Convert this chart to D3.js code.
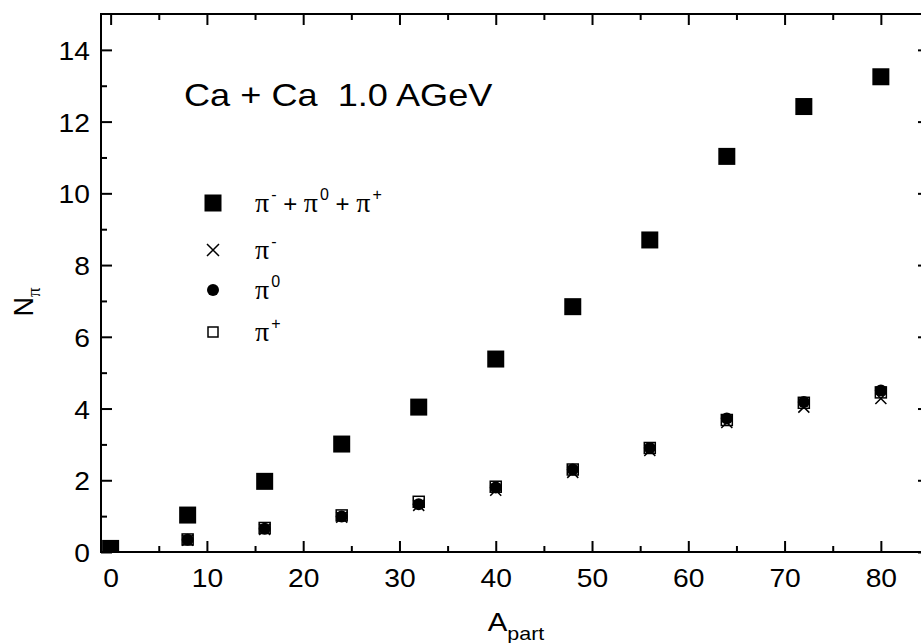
<!DOCTYPE html>
<html lang="en">
<head>
<meta charset="UTF-8">
<title>Pion multiplicity, Ca + Ca 1.0 AGeV</title>
<script src="https://d3js.org/d3.v7.min.js"></script>
<style>
  body { margin: 0; background: #fff; }
  svg { display: block; font-family: "Liberation Sans", Arial, sans-serif; }
  .axis text { font-size: 25px; fill: #000; }
  .axis line { stroke: #000; stroke-width: 2; }
</style>
</head>
<body>
<script>
// participants (x) and pion numbers
const aPart      = [0, 8, 16, 24, 32, 40, 48, 56, 64, 72, 80];
const nPiTotal   = [0.1, 1.03, 1.97, 3.01, 4.04, 5.38, 6.84, 8.7, 11.03, 12.42, 13.25];

const aPartSmall = [8, 16, 24, 32, 40, 48, 56, 64, 72, 80];
const nPiMinus   = [0.33, 0.63, 0.97, 1.3, 1.72, 2.22, 2.83, 3.61, 4.04, 4.28];
const nPiZero    = [0.34, 0.65, 0.99, 1.33, 1.8, 2.3, 2.9, 3.72, 4.18, 4.5];
const nPiPlus    = [0.35, 0.67, 1.02, 1.4, 1.82, 2.3, 2.9, 3.68, 4.16, 4.45];

const xMajor = [0, 10, 20, 30, 40, 50, 60, 70, 80];
const xMinor = [5, 15, 25, 35, 45, 55, 65, 75];
const yMajor = [0, 2, 4, 6, 8, 10, 12, 14];
const yMinor = [1, 3, 5, 7, 9, 11, 13];

const width = 921, height = 643;
const plotL = 101, plotR = 929, plotT = 14, plotB = 552;
const sx = 1.13; // the original lettering is a bit wider than Arial

const x = d3.scaleLinear().domain([-1, 85]).range([plotL, plotR]);
const y = d3.scaleLinear().domain([0, 15]).range([plotB, plotT]);

const svg = d3.select("body").append("svg")
    .attr("width", width)
    .attr("height", height);

svg.append("clipPath").attr("id", "plot")
  .append("rect")
    .attr("x", plotL).attr("y", plotT)
    .attr("width", plotR - plotL).attr("height", plotB - plotT);

// ticks, all pointing inward
function tickAxis(gen, tx, ty) {
  const g = svg.append("g").attr("class", "axis")
      .attr("transform", `translate(${tx},${ty})`)
      .call(gen);
  g.select(".domain").remove();
  return g;
}

tickAxis(d3.axisBottom(x).tickValues(xMajor).tickSize(-11).tickPadding(17).tickFormat(d3.format("d")), 0, plotB)
  .selectAll("text").attr("transform", `scale(${sx},1)`);
tickAxis(d3.axisBottom(x).tickValues(xMinor).tickSize(-6).tickFormat(""), 0, plotB);
tickAxis(d3.axisTop(x).tickValues(xMajor).tickSize(-11).tickFormat(""), 0, plotT);
tickAxis(d3.axisTop(x).tickValues(xMinor).tickSize(-6).tickFormat(""), 0, plotT);

tickAxis(d3.axisLeft(y).tickValues(yMajor).tickSize(-11).tickFormat(d3.format("d")), plotL, 0)
  .selectAll("text")
    .attr("x", -11 / sx)
    .attr("dy", "0.38em")
    .attr("transform", `scale(${sx},1)`);
tickAxis(d3.axisLeft(y).tickValues(yMinor).tickSize(-6).tickFormat(""), plotL, 0);
tickAxis(d3.axisRight(y).tickValues(yMajor).tickSize(-11).tickFormat(""), plotR, 0);
tickAxis(d3.axisRight(y).tickValues(yMinor).tickSize(-6).tickFormat(""), plotR, 0);

// frame
svg.append("rect")
    .attr("x", plotL).attr("y", plotT)
    .attr("width", plotR - plotL).attr("height", plotB - plotT)
    .attr("fill", "none").attr("stroke", "#000").attr("stroke-width", 2);

const marks = svg.append("g").attr("clip-path", "url(#plot)");

// pi+ open squares
marks.append("g").selectAll("rect")
  .data(aPartSmall.map((a, i) => [a, nPiPlus[i]]))
  .join("rect")
    .attr("x", d => x(d[0]) - 5.5).attr("y", d => y(d[1]) - 5.5)
    .attr("width", 11).attr("height", 11)
    .attr("fill", "none").attr("stroke", "#000").attr("stroke-width", 1.5);

// pi0 circles
marks.append("g").selectAll("circle")
  .data(aPartSmall.map((a, i) => [a, nPiZero[i]]))
  .join("circle")
    .attr("cx", d => x(d[0])).attr("cy", d => y(d[1]))
    .attr("r", 6).attr("fill", "#000");

// pi- crosses
marks.append("g").selectAll("path")
  .data(aPartSmall.map((a, i) => [a, nPiMinus[i]]))
  .join("path")
    .attr("d", d => {
      const cx = x(d[0]), cy = y(d[1]), s = 5.5;
      return `M${cx - s},${cy - s}L${cx + s},${cy + s}M${cx - s},${cy + s}L${cx + s},${cy - s}`;
    })
    .attr("stroke", "#000").attr("stroke-width", 1.5);

// sum, big filled squares
marks.append("g").selectAll("rect")
  .data(aPart.map((a, i) => [a, nPiTotal[i]]))
  .join("rect")
    .attr("x", d => x(d[0]) - 8.5).attr("y", d => y(d[1]) - 8.5)
    .attr("width", 17).attr("height", 17)
    .attr("fill", "#000");

// title
svg.append("text")
    .attr("transform", `translate(184,106) scale(${sx},1)`)
    .attr("font-size", 32)
    .attr("xml:space", "preserve")
    .text("Ca + Ca  1.0 AGeV");

// legend
const lx = 213, tx = 255;
const piFont = "'Liberation Serif', 'DejaVu Serif', serif";
const legendRows = [
  { y: 203, parts: [["π", "-"], [" + "], ["π", "0"], [" + "], ["π", "+"]] },
  { y: 250, parts: [["π", "-"]] },
  { y: 290, parts: [["π", "0"]] },
  { y: 332, parts: [["π", "+"]] }
];

svg.append("rect")
    .attr("x", lx - 8.5).attr("y", legendRows[0].y - 8.5)
    .attr("width", 17).attr("height", 17).attr("fill", "#000");
svg.append("path")
    .attr("d", `M${lx - 6},${250 - 6}L${lx + 6},${250 + 6}M${lx - 6},${250 + 6}L${lx + 6},${250 - 6}`)
    .attr("stroke", "#000").attr("stroke-width", 1.5);
svg.append("circle").attr("cx", lx).attr("cy", 290).attr("r", 6).attr("fill", "#000");
svg.append("rect")
    .attr("x", lx - 5).attr("y", 332 - 5).attr("width", 10).attr("height", 10)
    .attr("fill", "none").attr("stroke", "#000").attr("stroke-width", 1.5);

legendRows.forEach(row => {
  const t = svg.append("text")
      .attr("x", tx).attr("y", row.y + 9)
      .attr("font-size", 24)
      .attr("xml:space", "preserve");
  let raised = false;
  row.parts.forEach(p => {
    if (p.length === 1) {
      t.append("tspan").attr("dy", raised ? 12 : 0).text(p[0]);
      raised = false;
    } else {
      t.append("tspan").attr("dy", raised ? 12 : 0)
          .attr("font-family", piFont).attr("font-size", 28).text(p[0]);
      t.append("tspan").attr("font-size", 16).attr("dy", -12).attr("dx", 2).text(p[1]);
      raised = true;
    }
  });
});

// axis labels
const xl = svg.append("text")
    .attr("transform", `translate(516,631) scale(${sx},1)`)
    .attr("text-anchor", "middle")
    .attr("font-size", 26);
xl.append("tspan").text("A");
xl.append("tspan").attr("font-size", 19).attr("dy", 9).text("part");

const yl = svg.append("text")
    .attr("transform", "translate(33,302) rotate(-90)")
    .attr("text-anchor", "middle")
    .attr("font-size", 27);
yl.append("tspan").text("N");
yl.append("tspan").attr("font-family", piFont).attr("font-size", 19).attr("dy", 7).text("π");
</script>
</body>
</html>
